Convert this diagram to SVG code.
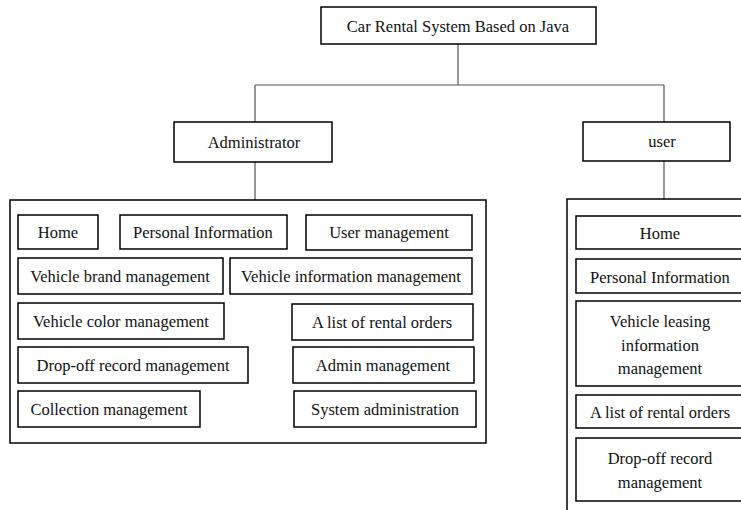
<svg xmlns="http://www.w3.org/2000/svg" width="741" height="510" viewBox="0 0 741 510">
<style>
.box{fill:#fff;stroke:#000;stroke-width:1.5}
.frame{fill:none;stroke:#000;stroke-width:1.5}
.conn{fill:none;stroke:#555;stroke-width:1.2}
text{font-family:'Liberation Serif','Times New Roman','DejaVu Serif',serif;font-size:16.5px;fill:#111;text-anchor:middle;dominant-baseline:central}
</style>
<rect width="741" height="510" fill="#fff"/>
<g id="connectors">
<path class="conn" d="M458 44V85M255 85H664M255 85V122M664 85V122M255 162V200M664 161V199"/>
</g>
<g id="root"><rect class="box" x="321" y="7" width="275" height="37"/><text x="458" y="26">Car Rental System Based on Java</text></g>
<g id="administrator"><rect class="box" x="174" y="122" width="158" height="40"/><text x="254" y="142">Administrator</text></g>
<g id="user"><rect class="box" x="583" y="122" width="147" height="39"/><text x="662" y="141">user</text></g>
<g id="admin-panel">
<rect class="frame" x="10" y="200" width="476" height="243"/>
</g>
<g id="a-home"><rect class="box" x="18" y="215" width="80" height="34"/><text x="58" y="232">Home</text></g>
<g id="a-personal"><rect class="box" x="120" y="215" width="167" height="34"/><text x="203" y="232">Personal Information</text></g>
<g id="a-user-mgmt"><rect class="box" x="306" y="215" width="166" height="35"/><text x="389" y="232">User management</text></g>
<g id="a-brand"><rect class="box" x="18" y="258" width="205" height="36"/><text x="120" y="276">Vehicle brand management</text></g>
<g id="a-info"><rect class="box" x="230" y="258" width="242" height="36"/><text x="351" y="276">Vehicle information management</text></g>
<g id="a-color"><rect class="box" x="18" y="303" width="206" height="36"/><text x="121" y="321">Vehicle color management</text></g>
<g id="a-orders"><rect class="box" x="292" y="304" width="181" height="36"/><text x="382" y="322">A list of rental orders</text></g>
<g id="a-dropoff"><rect class="box" x="18" y="347" width="230" height="36"/><text x="133" y="365">Drop-off record management</text></g>
<g id="a-admin-mgmt"><rect class="box" x="293" y="347" width="181" height="36"/><text x="383" y="365">Admin management</text></g>
<g id="a-collection"><rect class="box" x="18" y="391" width="182" height="36"/><text x="109" y="409">Collection management</text></g>
<g id="a-sysadmin"><rect class="box" x="294" y="391" width="182" height="36"/><text x="385" y="409">System administration</text></g>
<g id="user-panel">
<rect class="frame" x="567" y="199" width="200" height="330"/>
</g>
<g id="u-home"><rect class="box" x="576" y="216" width="170" height="33"/><text x="660" y="233">Home</text></g>
<g id="u-personal"><rect class="box" x="576" y="259" width="170" height="34"/><text x="660" y="277">Personal Information</text></g>
<g id="u-leasing"><rect class="box" x="576" y="301" width="170" height="85"/><text x="660" y="321">Vehicle leasing</text><text x="660" y="345">information</text><text x="660" y="368">management</text></g>
<g id="u-orders"><rect class="box" x="576" y="395" width="170" height="33"/><text x="660" y="412">A list of rental orders</text></g>
<g id="u-dropoff"><rect class="box" x="576" y="438" width="170" height="63"/><text x="660" y="458">Drop-off record</text><text x="660" y="482">management</text></g>
</svg>
